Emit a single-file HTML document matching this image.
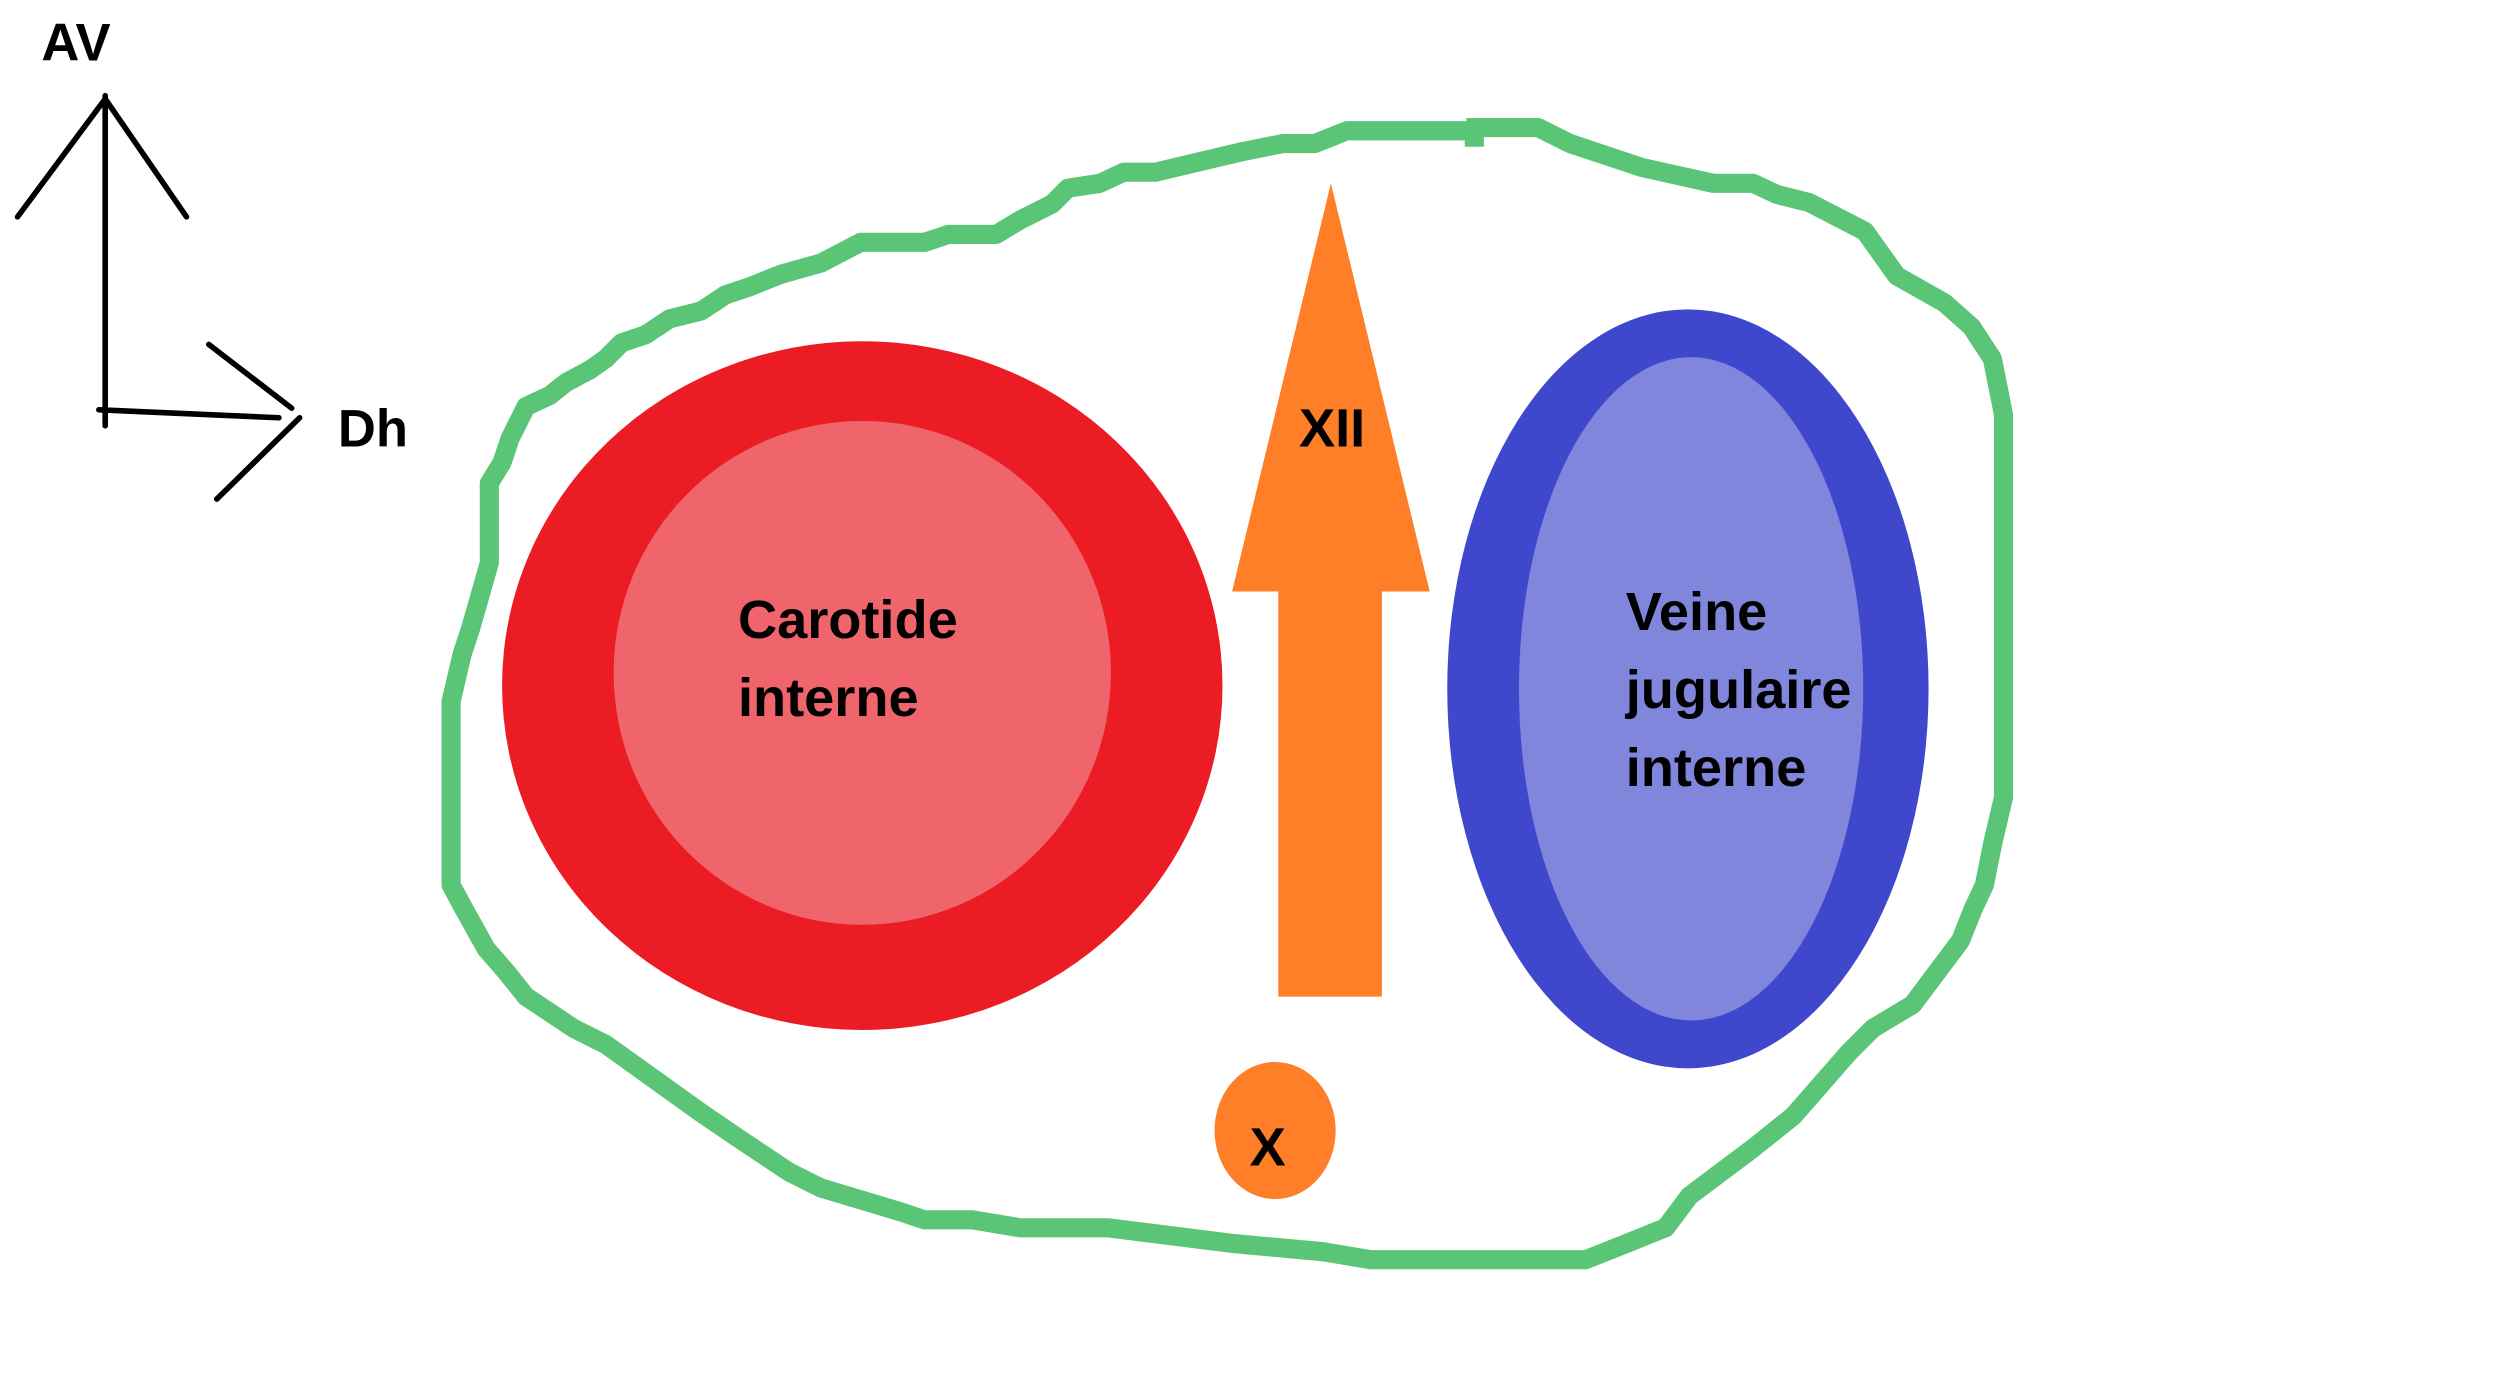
<!DOCTYPE html>
<html><head><meta charset="utf-8"><style>
html,body{margin:0;padding:0;background:#fff;}
svg{display:block;}
text{font-family:"Liberation Sans",sans-serif;font-weight:bold;fill:#000;}
</style></head><body>
<svg width="2496" height="1392" viewBox="0 0 1566 873" preserveAspectRatio="none" xmlns="http://www.w3.org/2000/svg">
<rect width="1566" height="873" fill="#fff"/>
<g stroke="#000" stroke-width="3.5" fill="none" stroke-linecap="round">
<line x1="66" y1="60" x2="66" y2="267"/>
<line x1="66" y1="62" x2="11" y2="136"/>
<line x1="66" y1="62" x2="117" y2="136"/>
<line x1="62" y1="257" x2="175" y2="262"/>
<line x1="131" y1="216" x2="183" y2="256"/>
<line x1="188" y1="262" x2="136" y2="313"/>
</g>
<text x="26" y="38" font-size="33">AV</text>
<text x="212" y="280" font-size="33">Dh</text>
<polyline fill="none" stroke="#5bc577" stroke-width="12" stroke-linejoin="round" points="920,80 965,80 985,90 1015,100 1030,105 1075,115 1100,115 1115,122 1135,127 1170,145 1190,173 1220,190 1237,205 1250,225 1257,260 1257,500 1250,530 1245,555 1238,570 1230,590 1215,610 1200,630 1175,645 1160,660 1125,700 1100,720 1080,735 1060,750 1045,770 1020,780 995,790 860,790 830,785 775,780 695,770 640,770 610,765 580,765 565,760 515,745 495,735 465,715 440,698 380,655 360,645 330,625 318,610 305,595 290,568 283,555 283,440 290,410 295,395 307,353 307,303 315,290 320,275 330,255 345,248 355,240 370,232 380,225 390,215 405,210 420,200 440,195 455,185 470,180 490,172 515,165 540,152 580,152 595,147 625,147 640,138 660,128 670,118 690,115 705,108 725,108 750,102 780,95 805,90 825,90 845,82 925,82 925,92"/>
<ellipse cx="541" cy="430" rx="226" ry="216" fill="#ec1c24"/>
<ellipse cx="541" cy="422" rx="156" ry="158" fill="#f0656b"/>
<text x="463" y="400" font-size="34">Carotide</text>
<text x="463" y="449" font-size="34">interne</text>
<polygon points="835,115 897,371 867,371 867,625 802,625 802,371 773,371" fill="#fe7f27"/>
<text x="815" y="280" font-size="34">XII</text>
<ellipse cx="1059" cy="432" rx="151" ry="238" fill="#3f48cc"/>
<ellipse cx="1061" cy="432" rx="108" ry="208" fill="#7f86dc"/>
<text x="1020" y="395" font-size="34">Veine</text>
<text x="1020" y="444" font-size="34">jugulaire</text>
<text x="1020" y="493" font-size="34">interne</text>
<ellipse cx="800" cy="709" rx="38" ry="43" fill="#fe7f27"/>
<text x="784" y="731" font-size="34">X</text>
</svg>
</body></html>
